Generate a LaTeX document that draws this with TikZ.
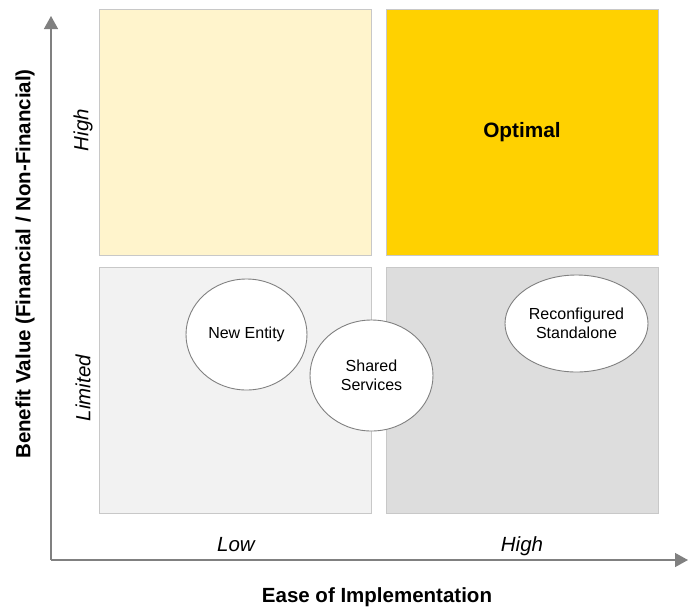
\documentclass[tikz,border=0pt]{standalone}
\usepackage{fontspec}
\setmainfont{Liberation Sans}
\usepackage{xcolor}
\usetikzlibrary{positioning,arrows.meta,shapes.geometric}

\definecolor{paleyellow}{HTML}{FFF4CC}
\definecolor{gold}{HTML}{FFD100}
\definecolor{palegray}{HTML}{F2F2F2}
\definecolor{midgray}{HTML}{DDDDDD}
\definecolor{framegray}{HTML}{C8C8C8}
\definecolor{axisgray}{HTML}{808080}

\begin{document}
\begin{tikzpicture}[
  x=1pt, y=-1pt,
  quad/.style={draw=framegray, line width=0.8pt, minimum width=272pt, minimum height=246pt, inner sep=0pt},
  option/.style={draw=axisgray, fill=white, ellipse, line width=0.9pt, align=center, inner sep=0pt, font=\fontsize{16}{19}\selectfont},
  axis/.style={draw=axisgray, line width=1.4pt, -{Triangle[length=13pt, width=14pt]}},
  level/.style={font=\fontsize{20.5}{24}\selectfont\itshape},
  title/.style={font=\fontsize{20.5}{24}\selectfont\bfseries}
]
\useasboundingbox (0,0) rectangle (688,606);

% quadrants
\node[quad, fill=paleyellow] (tl) at (235,132) {};
\node[quad, fill=gold] (tr) at (522,132) {\fontsize{20.8}{24}\selectfont\bfseries Optimal};
\node[quad, fill=palegray] (bl) at (235,390) {};
\node[quad, fill=midgray] (br) at (522,390) {};

% options
\node[option, minimum width=121pt, minimum height=111pt] (entity) at (246.5,334.5) {New Entity};
\node[option, minimum width=123pt, minimum height=111pt] (shared) at (371.5,375.5) {Shared\\Services};
\node[option, minimum width=143pt, minimum height=97pt] (standalone) at (576.5,323.5) {Reconfigured\\Standalone};

% axes
\coordinate (origin) at (51,560);
\coordinate (ytop) at (51,16);
\coordinate (xend) at (688,560);
\draw[axis] (origin) -- (ytop);
\draw[axis] (origin) -- (xend);

% labels
\node[level, rotate=90] (yhigh) at (83,130) {High};
\node[level, rotate=90] (ylimited) at (83,388) {Limited};
\node[level, anchor=base] (xlow) at (236,551) {Low};
\node[level, anchor=base] (xhigh) at (522,551) {High};
\node[title, anchor=base] (xtitle) at (377,602) {Ease of Implementation};
\node[title, rotate=90] (ytitle) at (25,264) {Benefit Value (Financial / Non-Financial)};
\end{tikzpicture}
\end{document}
